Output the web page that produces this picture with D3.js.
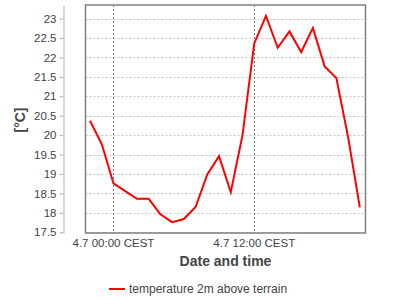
<!DOCTYPE html>
<html>
<head>
<meta charset="utf-8">
<script src="https://cdn.jsdelivr.net/npm/d3@7"></script>
<style>
    body { margin: 0; background: #fff; }
    svg { display: block; font-family: "Liberation Sans", Arial, sans-serif; }
</style>
</head>
<body>
<div id="chart"></div>
<script>
// podaci - satna temperatura (UTC vrijeme koristimo kao "CEST" oznaku)
const vremena = [
    "2023-07-03T22:00Z", "2023-07-03T23:00Z", "2023-07-04T00:00Z", "2023-07-04T01:00Z",
    "2023-07-04T02:00Z", "2023-07-04T03:00Z", "2023-07-04T04:00Z", "2023-07-04T05:00Z",
    "2023-07-04T06:00Z", "2023-07-04T07:00Z", "2023-07-04T08:00Z", "2023-07-04T09:00Z",
    "2023-07-04T10:00Z", "2023-07-04T11:00Z", "2023-07-04T12:00Z", "2023-07-04T13:00Z",
    "2023-07-04T14:00Z", "2023-07-04T15:00Z", "2023-07-04T16:00Z", "2023-07-04T17:00Z",
    "2023-07-04T18:00Z", "2023-07-04T19:00Z", "2023-07-04T20:00Z", "2023-07-04T21:00Z"
];
const temperature = [
    20.37, 19.77, 18.76, 18.56, 18.36, 18.36, 17.96, 17.76,
    17.84, 18.15, 18.99, 19.46, 18.53, 20.0, 22.36, 23.07,
    22.25, 22.67, 22.14, 22.76, 21.77, 21.47, 19.95, 18.14
];
const yTicks = [17.5, 18, 18.5, 19, 19.5, 20, 20.5, 21, 21.5, 22, 22.5, 23];
const xTicks = ["2023-07-04T00:00Z", "2023-07-04T12:00Z"];
const xDomain = ["2023-07-03T21:37Z", "2023-07-04T21:29Z"];
const yDomain = [17.48, 23.35];
const nazivSerije = "temperature 2m above terrain";

const dimenzije = {
    sirina: 400,
    visina: 300,
    lijevo: 85.5,
    desno: 365.5,
    gore: 5,
    dolje: 233
};

const okvir = d3.select("#chart")
    .append("svg")
    .attr("width", dimenzije.sirina)
    .attr("height", dimenzije.visina);

const xSkala = d3.scaleUtc()
    .domain(xDomain.map(d => new Date(d)))
    .range([dimenzije.lijevo, dimenzije.desno]);

const ySkala = d3.scaleLinear()
    .domain(yDomain)
    .range([dimenzije.dolje, dimenzije.gore]);

// horizontalna mreza
okvir.append("g")
    .selectAll("line")
    .data(yTicks)
    .join("line")
    .attr("x1", dimenzije.lijevo)
    .attr("x2", dimenzije.desno)
    .attr("y1", d => Math.round(ySkala(d)) + 0.5)
    .attr("y2", d => Math.round(ySkala(d)) + 0.5)
    .attr("stroke", "#c4c4c4")
    .attr("stroke-dasharray", "2,2");

// vertikalna mreza
okvir.append("g")
    .selectAll("line")
    .data(xTicks.map(d => new Date(d)))
    .join("line")
    .attr("x1", d => Math.round(xSkala(d)) + 0.5)
    .attr("x2", d => Math.round(xSkala(d)) + 0.5)
    .attr("y1", dimenzije.gore)
    .attr("y2", dimenzije.dolje)
    .attr("stroke", "#808080")
    .attr("stroke-dasharray", "2,2");

// linija temperature
const podaci = vremena.map((v, i) => ({ t: new Date(v), temp: temperature[i] }));

okvir.append("path")
    .datum(podaci)
    .attr("fill", "none")
    .attr("stroke", "#ff0000")
    .attr("stroke-width", 2)
    .attr("d", d3.line().x(d => xSkala(d.t)).y(d => ySkala(d.temp)));

// okvir grafa
okvir.append("rect")
    .attr("x", dimenzije.lijevo)
    .attr("y", dimenzije.gore)
    .attr("width", dimenzije.desno - dimenzije.lijevo)
    .attr("height", dimenzije.dolje - dimenzije.gore)
    .attr("fill", "none")
    .attr("stroke", "#808080")
    .attr("stroke-width", 1.5);

// y os
const yOs = okvir.append("g")
    .attr("transform", "translate(63.5,0)")
    .call(d3.axisLeft(ySkala)
        .tickValues(yTicks)
        .tickSize(4)
        .tickPadding(3)
        .tickSizeOuter(0)
        .tickFormat(d => String(d)));
yOs.select(".domain").attr("stroke", "#b0b0b0");
yOs.selectAll(".tick line").attr("stroke", "#b0b0b0");
yOs.selectAll(".tick text")
    .attr("fill", "#444")
    .style("font-size", "11.5px")
    .style("font-family", "'Liberation Sans', Arial, sans-serif");

// x oznake
const xFormat = d3.utcFormat("%-d.%-m %H:%M CEST");
okvir.append("g")
    .selectAll("text")
    .data(xTicks.map(d => new Date(d)))
    .join("text")
    .attr("x", d => xSkala(d))
    .attr("y", 247)
    .attr("text-anchor", "middle")
    .attr("fill", "#444")
    .style("font-size", "11.5px")
    .text(d => xFormat(d));

// naslovi osi
okvir.append("text")
    .attr("x", (dimenzije.lijevo + dimenzije.desno) / 2)
    .attr("y", 266)
    .attr("text-anchor", "middle")
    .attr("fill", "#444")
    .style("font-size", "14px")
    .style("font-weight", "bold")
    .text("Date and time");

okvir.append("text")
    .attr("transform", "translate(25,120) rotate(-90)")
    .attr("text-anchor", "middle")
    .attr("fill", "#444")
    .style("font-size", "14px")
    .style("font-weight", "bold")
    .text("[°C]");

// legenda
okvir.append("line")
    .attr("x1", 109)
    .attr("x2", 125)
    .attr("y1", 289)
    .attr("y2", 289)
    .attr("stroke", "#ff0000")
    .attr("stroke-width", 2);

okvir.append("text")
    .attr("x", 129)
    .attr("y", 293)
    .attr("fill", "#444")
    .style("font-size", "12px")
    .text(nazivSerije);
</script>
</body>
</html>
